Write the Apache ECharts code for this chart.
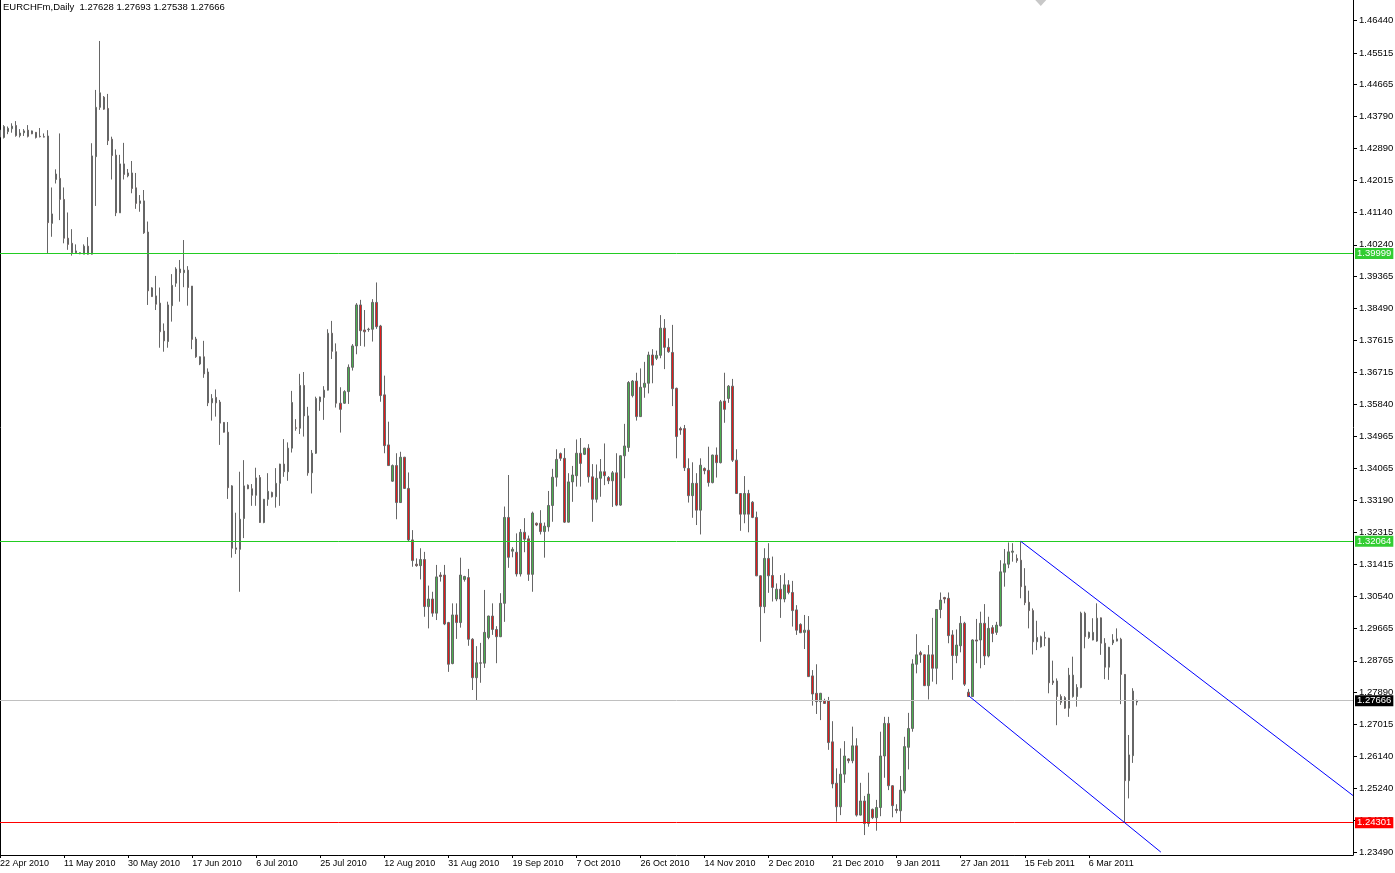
<!DOCTYPE html>
<html><head><meta charset="utf-8">
<script src="https://cdn.jsdelivr.net/npm/echarts@6/dist/echarts.min.js"></script>
<style>html,body{margin:0;padding:0;background:#fff}#c{width:1395px;height:873px}</style>
</head><body><div id="c"></div>
<script>
const symbol = 'EURCHFm', period = 'Daily';
const firstDay = [2010, 4, 22];   // first bar date (Y, M, D); bars Sun-Fri
const totalSlots = 339;           // bar slots visible across the chart (incl. empty right margin)

const open = [1.4321,1.4320,1.4336,1.4344,1.4353,1.4325,1.4333,1.4340,1.4338,1.4334,1.4323,1.4322,1.4324,1.4083,1.4204,1.4207,1.4149,1.4042,1.4028,1.4007,
1.4002,1.3998,1.4020,1.3998,1.4267,1.4403,1.4431,1.4400,1.4315,1.4271,1.4112,1.4247,1.4214,1.4222,1.4181,1.4138,1.4145,1.4059,1.3905,1.3883,
1.3863,1.3786,1.3757,1.3856,1.3918,1.3957,1.3947,1.3954,1.3910,1.3764,1.3695,1.3715,1.3673,1.3588,1.3603,1.3590,1.3534,1.3507,1.3359,1.3188,
1.3184,1.3269,1.3361,1.3351,1.3333,1.3382,1.3258,1.3322,1.3341,1.3329,1.3366,1.3419,1.3398,1.3463,1.3519,1.3518,1.3636,1.3552,1.3395,1.3449,
1.3591,1.3603,1.3623,1.3780,1.3729,1.3587,1.3587,1.3619,1.3686,1.3745,1.3858,1.3789,1.3791,1.3791,1.3865,1.3800,1.3610,1.3472,1.3372,1.3415,
1.3313,1.3438,1.3352,1.3210,1.3143,1.3139,1.3156,1.3026,1.3047,1.3008,1.3113,1.3113,1.2982,1.2869,1.3003,1.2982,1.3101,1.3106,1.2936,1.2830,
1.2871,1.2870,1.2941,1.3000,1.2963,1.2943,1.3035,1.3272,1.3179,1.3176,1.3116,1.3231,1.3213,1.3115,1.3256,1.3256,1.3233,1.3246,1.3305,1.3383,
1.3448,1.3435,1.3259,1.3370,1.3387,1.3449,1.3446,1.3463,1.3384,1.3322,1.3380,1.3398,1.3382,1.3373,1.3395,1.3306,1.3442,1.3465,1.3608,1.3648,
1.3550,1.3631,1.3642,1.3720,1.3711,1.3719,1.3794,1.3741,1.3727,1.3628,1.3517,1.3517,1.3407,1.3332,1.3366,1.3292,1.3407,1.3402,1.3368,1.3444,
1.3423,1.3593,1.3600,1.3634,1.3430,1.3338,1.3281,1.3338,1.3314,1.3272,1.3111,1.3026,1.3159,1.3112,1.3047,1.3074,1.3047,1.3086,1.3065,1.3017,
1.2977,1.2955,1.2961,1.2835,1.2787,1.2764,1.2766,1.2766,1.2653,1.2539,1.2474,1.2564,1.2606,1.2601,1.2642,1.2451,1.2490,1.2428,1.2467,1.2444,
1.2472,1.2614,1.2704,1.2532,1.2467,1.2463,1.2518,1.2638,1.2690,1.2867,1.2899,1.2893,1.2808,1.2893,1.2856,1.3018,1.3051,1.3049,1.2948,1.2891,
1.2918,1.2980,1.2790,1.2778,1.2934,1.2934,1.2980,1.2890,1.2968,1.2955,1.2973,1.3121,1.3143,1.3176,1.3159,1.3154,1.3083,1.3038,1.3015,1.2929,
1.2915,1.2941,1.2939,1.2821,1.2821,1.2778,1.2775,1.2746,1.2778,1.2778,1.2803,1.3008,1.2941,1.2934,1.2931,1.2995,1.2925,1.2859,1.2926,1.2931,
1.2936,1.2839,1.2546,1.2615,1.27628];

const close = [1.4340,1.4350,1.4345,1.4351,1.4325,1.4332,1.4338,1.4323,1.4330,1.4320,1.4322,1.4321,1.4085,1.4109,1.4219,1.4149,1.4042,1.4025,1.4002,1.4002,
1.3999,1.4020,1.3998,1.4269,1.4403,1.4443,1.4398,1.4311,1.4270,1.4112,1.4247,1.4218,1.4222,1.4179,1.4138,1.4145,1.4057,1.3897,1.3881,1.3860,
1.3784,1.3759,1.3858,1.3912,1.3957,1.3947,1.3954,1.3906,1.3763,1.3715,1.3715,1.3668,1.3588,1.3600,1.3588,1.3532,1.3507,1.3354,1.3187,1.3184,
1.3267,1.3359,1.3351,1.3333,1.3381,1.3258,1.3322,1.3344,1.3329,1.3366,1.3419,1.3398,1.3463,1.3589,1.3518,1.3636,1.3552,1.3395,1.3449,1.3600,
1.3604,1.3623,1.3780,1.3730,1.3587,1.3570,1.3619,1.3686,1.3745,1.3858,1.3787,1.3784,1.3790,1.3865,1.3798,1.3608,1.3470,1.3415,1.3415,1.3313,
1.3438,1.3352,1.3210,1.3153,1.3139,1.3156,1.3026,1.3047,1.3008,1.3108,1.3109,1.2978,1.2867,1.3003,1.2982,1.3113,1.3109,1.2936,1.2830,1.2871,
1.2870,1.2955,1.3000,1.2963,1.2943,1.3035,1.3272,1.3162,1.3184,1.3116,1.3231,1.3212,1.3115,1.3284,1.3251,1.3233,1.3248,1.3305,1.3383,1.3432,
1.3435,1.3259,1.3370,1.3389,1.3449,1.3421,1.3463,1.3384,1.3322,1.3380,1.3398,1.3387,1.3373,1.3395,1.3306,1.3442,1.3469,1.3644,1.3648,1.3550,
1.3631,1.3642,1.3720,1.3692,1.3719,1.3794,1.3741,1.3729,1.3627,1.3495,1.3513,1.3409,1.3332,1.3366,1.3292,1.3416,1.3401,1.3368,1.3444,1.3423,
1.3591,1.3570,1.3634,1.3430,1.3338,1.3281,1.3338,1.3281,1.3272,1.3111,1.3026,1.3159,1.3111,1.3079,1.3074,1.3047,1.3086,1.3065,1.3015,1.2961,
1.2954,1.2961,1.2833,1.2785,1.2764,1.2787,1.2759,1.2651,1.2537,1.2474,1.2564,1.2614,1.2601,1.2642,1.2451,1.2490,1.2428,1.2509,1.2444,1.2472,
1.2614,1.2704,1.2532,1.2477,1.2464,1.2520,1.2640,1.2690,1.2868,1.2893,1.2893,1.2808,1.2893,1.2856,1.3018,1.3044,1.3047,1.2946,1.2891,1.2920,
1.2980,1.2812,1.2778,1.2934,1.2931,1.2980,1.2890,1.2966,1.2952,1.2975,1.3122,1.3144,1.3177,1.3179,1.3153,1.3081,1.3037,1.3015,1.2929,1.2941,
1.2943,1.2939,1.2816,1.2816,1.2778,1.2762,1.2746,1.2837,1.2837,1.2803,1.3008,1.2943,1.2955,1.2955,1.2994,1.2925,1.2859,1.2914,1.2934,1.2937,
1.2839,1.2546,1.2617,1.2793,1.27666];

const low = [1.4318,1.4317,1.4329,1.4333,1.4322,1.4320,1.4324,1.4320,1.4329,1.4317,1.4320,1.4320,1.3999,1.4046,1.4193,1.4092,1.4028,1.4010,1.3994,1.4000,
1.3998,1.3998,1.3997,1.3997,1.4131,1.4396,1.4396,1.4299,1.4204,1.4103,1.4112,1.4204,1.4210,1.4166,1.4123,1.4115,1.4054,1.3858,1.3880,1.3844,
1.3740,1.3729,1.3740,1.3812,1.3908,1.3867,1.3907,1.3856,1.3736,1.3712,1.3692,1.3657,1.3579,1.3539,1.3550,1.3472,1.3506,1.3323,1.3161,1.3171,
1.3067,1.3215,1.3350,1.3304,1.3304,1.3257,1.3256,1.3304,1.3327,1.3299,1.3304,1.3384,1.3373,1.3451,1.3511,1.3502,1.3495,1.3387,1.3338,1.3447,
1.3566,1.3541,1.3622,1.3709,1.3575,1.3506,1.3585,1.3585,1.3677,1.3722,1.3745,1.3743,1.3784,1.3757,1.3792,1.3591,1.3449,1.3414,1.3370,1.3267,
1.3312,1.3351,1.3207,1.3136,1.3136,1.3101,1.2998,1.2966,1.2998,1.2989,1.3095,1.2975,1.2846,1.2867,1.2937,1.2968,1.3095,1.2918,1.2796,1.2766,
1.2816,1.2857,1.2936,1.2948,1.2870,1.2942,1.2984,1.3133,1.3162,1.3109,1.3109,1.3176,1.3097,1.3067,1.3248,1.3225,1.3161,1.3233,1.3260,1.3357,
1.3428,1.3257,1.3258,1.3315,1.3357,1.3357,1.3444,1.3368,1.3260,1.3313,1.3329,1.3361,1.3364,1.3301,1.3303,1.3304,1.3380,1.3453,1.3603,1.3539,
1.3549,1.3602,1.3614,1.3642,1.3706,1.3711,1.3681,1.3726,1.3579,1.3435,1.3500,1.3400,1.3313,1.3271,1.3251,1.3225,1.3391,1.3357,1.3366,1.3382,
1.3421,1.3533,1.3588,1.3425,1.3337,1.3235,1.3256,1.3231,1.3270,1.3110,1.2929,1.3008,1.3064,1.3040,1.3041,1.2995,1.3038,1.3060,1.2971,1.2948,
1.2953,1.2909,1.2832,1.2753,1.2730,1.2713,1.2758,1.2631,1.2525,1.2433,1.2451,1.2540,1.2594,1.2594,1.2447,1.2450,1.2396,1.2419,1.2440,1.2408,
1.2448,1.2554,1.2520,1.2445,1.2456,1.2430,1.2511,1.2577,1.2681,1.2842,1.2871,1.2807,1.2770,1.2819,1.2812,1.2994,1.3035,1.2925,1.2824,1.2870,
1.2900,1.2807,1.2777,1.2777,1.2870,1.2856,1.2865,1.2886,1.2928,1.2948,1.2971,1.3081,1.3132,1.3150,1.3147,1.3049,1.3030,1.2966,1.2894,1.2906,
1.2913,1.2917,1.2787,1.2810,1.2699,1.2755,1.2744,1.2722,1.2775,1.2750,1.2801,1.2911,1.2937,1.2933,1.2929,1.2893,1.2826,1.2824,1.2920,1.2930,
1.2757,1.2430,1.2497,1.2595,1.27538];

const high = [1.4346,1.4354,1.4350,1.4359,1.4365,1.4343,1.4343,1.4354,1.4339,1.4335,1.4346,1.4331,1.4340,1.4182,1.4232,1.4331,1.4182,1.4113,1.4067,1.4025,
1.4003,1.4025,1.4045,1.4304,1.4451,1.4586,1.4434,1.4440,1.4322,1.4287,1.4272,1.4305,1.4233,1.4255,1.4222,1.4161,1.4175,1.4088,1.3907,1.3938,
1.3906,1.3807,1.3867,1.3943,1.3962,1.3982,1.4037,1.3965,1.3910,1.3770,1.3716,1.3759,1.3683,1.3612,1.3625,1.3596,1.3535,1.3535,1.3361,1.3285,
1.3398,1.3430,1.3363,1.3364,1.3409,1.3389,1.3323,1.3394,1.3343,1.3408,1.3420,1.3488,1.3479,1.3621,1.3543,1.3668,1.3673,1.3577,1.3458,1.3605,
1.3605,1.3634,1.3791,1.3814,1.3752,1.3631,1.3623,1.3694,1.3750,1.3863,1.3872,1.3844,1.3795,1.3874,1.3920,1.3803,1.3663,1.3536,1.3418,1.3449,
1.3453,1.3439,1.3396,1.3237,1.3159,1.3187,1.3177,1.3084,1.3067,1.3141,1.3121,1.3141,1.2984,1.3035,1.3035,1.3161,1.3111,1.3130,1.2939,1.2917,
1.2926,1.3072,1.3001,1.3035,1.2972,1.3063,1.3302,1.3389,1.3190,1.3228,1.3240,1.3270,1.3222,1.3288,1.3258,1.3292,1.3258,1.3345,1.3406,1.3460,
1.3451,1.3463,1.3394,1.3414,1.3487,1.3491,1.3464,1.3474,1.3419,1.3418,1.3433,1.3476,1.3386,1.3400,1.3449,1.3443,1.3530,1.3648,1.3651,1.3671,
1.3683,1.3701,1.3729,1.3736,1.3732,1.3830,1.3819,1.3766,1.3803,1.3630,1.3522,1.3527,1.3435,1.3424,1.3394,1.3435,1.3410,1.3467,1.3445,1.3465,
1.3596,1.3671,1.3637,1.3654,1.3460,1.3339,1.3386,1.3348,1.3317,1.3288,1.3112,1.3187,1.3201,1.3164,1.3090,1.3113,1.3118,1.3099,1.3097,1.3030,
1.2980,1.3003,1.3000,1.2851,1.2867,1.2788,1.2772,1.2777,1.2710,1.2580,1.2635,1.2655,1.2608,1.2695,1.2663,1.2540,1.2504,1.2568,1.2469,1.2493,
1.2681,1.2722,1.2722,1.2534,1.2481,1.2559,1.2667,1.2733,1.2881,1.2950,1.2904,1.2894,1.2920,1.2995,1.3019,1.3065,1.3053,1.3065,1.2961,1.2963,
1.3000,1.2984,1.2799,1.2936,1.2992,1.3012,1.3033,1.2998,1.2975,1.2984,1.3154,1.3185,1.3203,1.3201,1.3170,1.3206,1.3132,1.3070,1.3021,1.2987,
1.2946,1.2957,1.2940,1.2877,1.2828,1.2784,1.2779,1.2857,1.2888,1.2812,1.3012,1.3012,1.2957,1.2994,1.3035,1.2996,1.2939,1.2915,1.2950,1.2966,
1.2940,1.2840,1.2672,1.2801,1.27693];

const priceTicks = [1.46440,1.45515,1.44665,1.43790,1.42890,1.42015,1.41140,1.40240,1.39365,1.38490,1.37615,1.36715,1.35840,
1.34965,1.34065,1.33190,1.32315,1.31415,1.30540,1.29665,1.28765,1.27890,1.27015,1.26140,1.25240,1.24365,1.23490];
const priceRange = [1.2341, 1.4699];

const greenLevels = [1.39999, 1.32064];
const redLevel = 1.24301;
// trendlines: [barIndex, price] anchor pairs
const upperTrend = [[255, 1.3206], [338, 1.2505]];
const lowerTrend = [[242, 1.2780], [290, 1.2349]];
const shiftMarkerBar = 260;   // chart-shift marker on the top edge

// ---- build calendar (Sun-Fri bars) ----
const MONTHS = ['Jan','Feb','Mar','Apr','May','Jun','Jul','Aug','Sep','Oct','Nov','Dec'];
const categories = [];
{
  const d = new Date(Date.UTC(firstDay[0], firstDay[1] - 1, firstDay[2]));
  while (categories.length < totalSlots) {
    if (d.getUTCDay() !== 6) categories.push(d.getUTCDate() + ' ' + MONTHS[d.getUTCMonth()] + ' ' + d.getUTCFullYear());
    d.setUTCDate(d.getUTCDate() + 1);
  }
}
const n = open.length;
const candles = open.map((o, i) => [o, close[i], low[i], high[i]]);
const last = n - 1;
const bid = close[last];
const fmt = v => Number(v).toFixed(5);
const FONT = 'Liberation Sans';

const chart = echarts.init(document.getElementById('c'), null, { renderer: 'canvas' });

// horizontal level as a two-point line across the whole plot, label on the price scale
const levelPair = (v, color, bg) => [
  { coord: [categories[0], v],
    lineStyle: { color: color, width: 1, type: 'solid', opacity: 1 },
    label: { show: true, position: 'end', distance: 2, formatter: () => fmt(v),
             color: '#ffffff', backgroundColor: bg, padding: [1, 2, 0, 2],
             fontFamily: FONT, fontSize: 9.5 } },
  { coord: [categories[totalSlots - 1], v] }
];
const trendPair = (t) => [
  { coord: [categories[t[0][0]], t[0][1]], lineStyle: { color: '#0000ff', width: 1, type: 'solid' }, label: { show: false } },
  { coord: [categories[t[1][0]], t[1][1]] }
];

chart.setOption({
  animation: false,
  backgroundColor: '#ffffff',
  title: {
    text: symbol + ',' + period + '  ' + [open[last], high[last], low[last], close[last]].map(fmt).join(' '),
    left: 3, top: 2, padding: 0,
    textStyle: { fontFamily: FONT, fontSize: 9.5, fontWeight: 'normal', color: '#000' }
  },
  grid: { left: 0, right: 42, top: 0, bottom: 18, containLabel: false, outerBoundsMode: 'none' },
  xAxis: {
    type: 'category', data: categories, boundaryGap: false,
    axisLine: { show: true, lineStyle: { color: '#000', width: 1 } },
    axisTick: { show: true, length: 3, lineStyle: { color: '#000' },
                interval: (idx) => idx % 16 === 0 && idx < n },
    axisLabel: { show: true, interval: (idx) => idx % 16 === 0 && idx < n,
                 align: 'left', margin: 4, color: '#000', fontFamily: FONT, fontSize: 9 },
    splitLine: { show: false }
  },
  yAxis: [{
    type: 'value', position: 'right', min: priceRange[0], max: priceRange[1], scale: true,
    axisLine: { show: true, lineStyle: { color: '#000', width: 1 } },
    axisTick: { show: true, length: 4, customValues: priceTicks, lineStyle: { color: '#000' } },
    axisLabel: { show: true, customValues: priceTicks, formatter: v => fmt(v), margin: 6,
                 color: '#000', fontFamily: FONT, fontSize: 9.5 },
    splitLine: { show: false }
  }, {
    type: 'value', position: 'left', min: priceRange[0], max: priceRange[1],
    axisLine: { show: true, onZero: false, lineStyle: { color: '#000', width: 1 } },
    axisTick: { show: false }, axisLabel: { show: false }, splitLine: { show: false }
  }],
  series: [
    {
      type: 'candlestick',
      data: candles,
      barWidth: 2,
      itemStyle: { color: '#4caf50', color0: '#e31b1b', borderColor: '#666666', borderColor0: '#666666', borderWidth: 1 },
      markLine: {
        silent: true, symbol: ['none', 'none'], animation: false, precision: 5,
        emphasis: { disabled: true },
        data: [
          levelPair(bid, '#c0c0c0', '#000000'),
          levelPair(greenLevels[0], '#22cc22', '#32cd32'),
          levelPair(greenLevels[1], '#22cc22', '#32cd32'),
          levelPair(redLevel, '#ff0000', '#ff0000'),
          trendPair(upperTrend),
          trendPair(lowerTrend)
        ]
      },
      markPoint: {
        silent: true, animation: false,
        symbol: 'triangle', symbolRotate: 180, symbolSize: [11, 6], symbolOffset: [0, 3],
        itemStyle: { color: '#c8c8c8' },
        label: { show: false },
        data: [{ coord: [categories[shiftMarkerBar], priceRange[1]] }]
      }
    }
  ]
});
</script></body></html>
